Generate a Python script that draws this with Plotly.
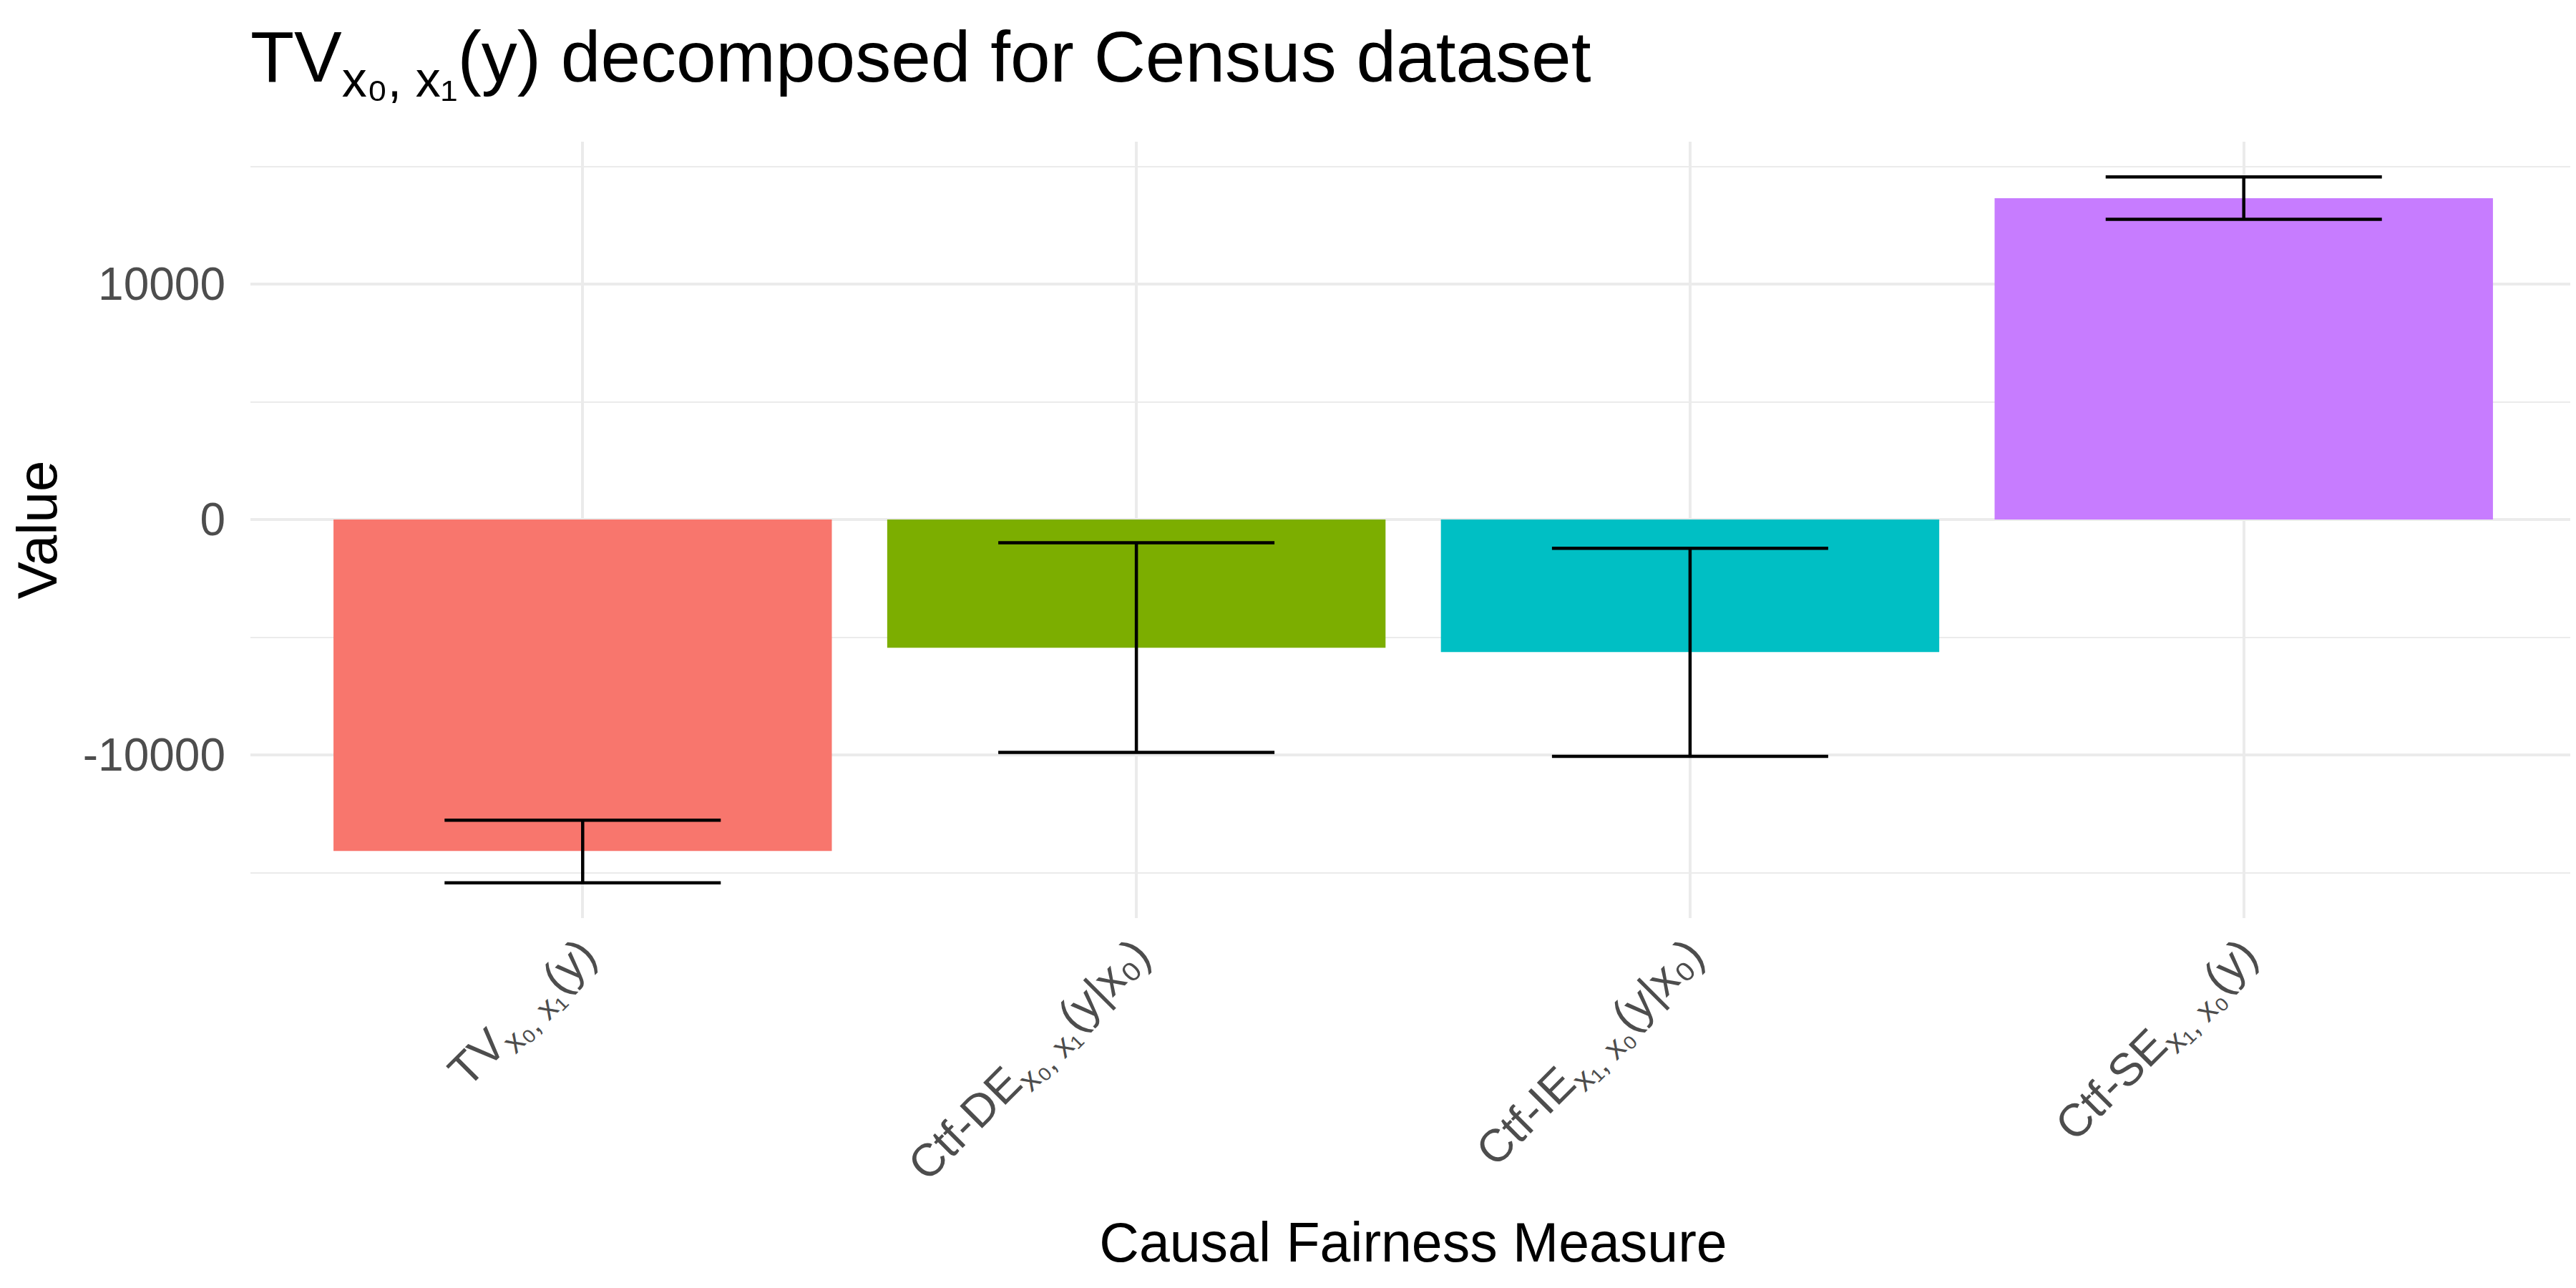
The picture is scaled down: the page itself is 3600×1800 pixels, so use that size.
import plotly.graph_objects as go

# Causal fairness measures (x categories) and their estimates with error bounds
measures = [
    "TV<sub>x₀, x₁</sub>(y)",
    "Ctf-DE<sub>x₀, x₁</sub>(y|x₀)",
    "Ctf-IE<sub>x₁, x₀</sub>(y|x₀)",
    "Ctf-SE<sub>x₁, x₀</sub>(y)",
]
values = [-14080, -5450, -5630, 13650]
lower = [-15430, -9890, -10060, 12750]
upper = [-12770, -990, -1220, 14550]
colors = ["#F8766D", "#7CAE00", "#00BFC4", "#C77CFF"]

y_ticks = [-10000, 0, 10000]
y_ticklabels = ["-10000", "0", "10000"]

FONT = "Liberation Sans, Arial, Helvetica, sans-serif"

err_plus = [u - v for u, v in zip(upper, values)]
err_minus = [v - l for v, l in zip(values, lower)]

# ggplot-like 5% expansion of the continuous axis
lo, hi = min(lower), max(upper)
pad = 0.05 * (hi - lo)

fig = go.Figure()
fig.add_trace(go.Bar(
    x=measures,
    y=values,
    width=0.9,
    marker=dict(color=colors, line=dict(width=0)),
    error_y=dict(
        type="data",
        symmetric=False,
        array=err_plus,
        arrayminus=err_minus,
        color="black",
        thickness=4.5,
        width=193,
    ),
    showlegend=False,
))

fig.update_layout(
    width=3600,
    height=1800,
    margin=dict(l=342, r=8, t=190, b=525),
    paper_bgcolor="white",
    plot_bgcolor="white",
    font=dict(family=FONT, color="black"),
    title=dict(
        text="TV<sub>x₀, x₁</sub>(y) decomposed for Census dataset",
        font=dict(size=100, color="black", family=FONT),
        x=0,
        xref="paper",
        xanchor="left",
        y=1 - 71 / 1800,
        yref="container",
        yanchor="middle",
        pad=dict(l=0, r=0, t=0, b=0),
    ),
)

fig.update_xaxes(
    range=[-0.6, 3.6],
    tickangle=-45,
    tickfont=dict(size=64, color="#4D4D4D", family=FONT),
    showgrid=True,
    gridcolor="#EBEBEB",
    gridwidth=3.5,
    showline=False,
    zeroline=False,
    ticks="",
    automargin=False,
    title=dict(text="Causal Fairness Measure", font=dict(size=77, color="black"), standoff=40),
)

fig.update_yaxes(
    range=[lo - pad, hi + pad],
    tickvals=y_ticks,
    ticktext=y_ticklabels,
    tickfont=dict(size=64, color="#4D4D4D", family=FONT),
    ticklabelstandoff=34,
    showgrid=True,
    gridcolor="#EBEBEB",
    gridwidth=3.5,
    minor=dict(dtick=5000, tick0=0, showgrid=True, gridcolor="#EBEBEB", gridwidth=1.8),
    zeroline=False,
    showline=False,
    ticks="",
    automargin=False,
    title=dict(text="Value", font=dict(size=78, color="black"), standoff=32),
)

fig.write_html("out.html")
